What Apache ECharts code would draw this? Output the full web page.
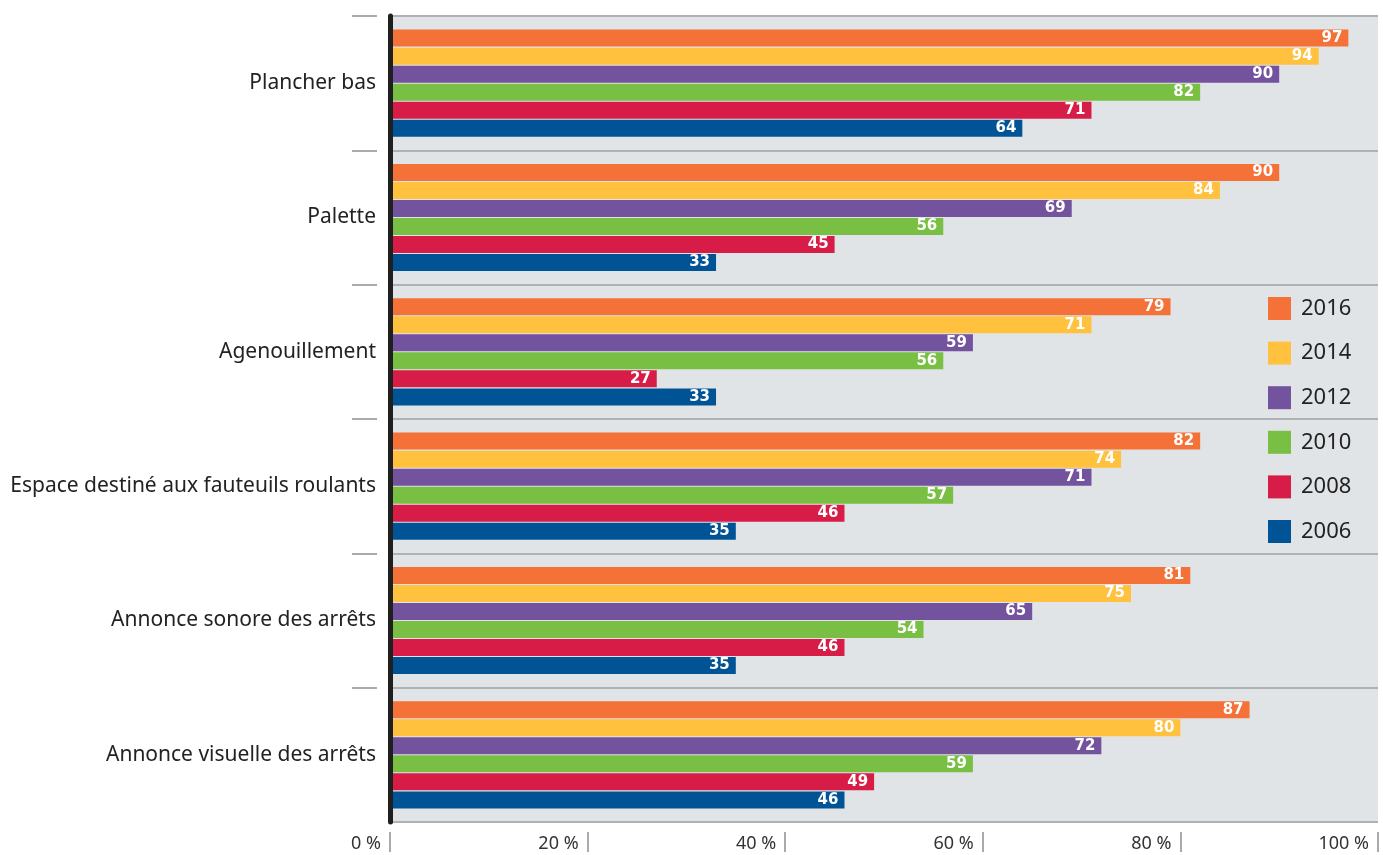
<!DOCTYPE html>
<html>
<head>
<meta charset="utf-8">
<script src="https://cdn.jsdelivr.net/npm/echarts@6/dist/echarts.min.js"></script>
<style>html,body{margin:0;padding:0;background:#fff;}#c{width:1383px;height:855px;}</style>
</head>
<body>
<div id="c"></div>
<script>
const categories = ["Plancher bas", "Palette", "Agenouillement", "Espace destiné aux fauteuils roulants", "Annonce sonore des arrêts", "Annonce visuelle des arrêts"];
const years = ["2016", "2014", "2012", "2010", "2008", "2006"];
const v2016 = [97, 90, 79, 82, 81, 87];
const v2014 = [94, 84, 71, 74, 75, 80];
const v2012 = [90, 69, 59, 71, 65, 72];
const v2010 = [82, 56, 56, 57, 54, 59];
const v2008 = [71, 45, 27, 46, 46, 49];
const v2006 = [64, 33, 33, 35, 35, 46];
const xTicks = [0, 20, 40, 60, 80, 100];

const values = [v2016, v2014, v2012, v2010, v2008, v2006];
const colors = ["#F47137", "#FFC13E", "#73529E", "#78BF43", "#D71D47", "#005496"];

const chart = echarts.init(document.getElementById('c'));
const series = years.map((y, i) => ({
  name: y,
  type: 'bar',
  data: values[i],
  barWidth: 17,
  barGap: '6%',
  itemStyle: { color: colors[i] },
  label: {
    show: true,
    position: 'insideRight',
    distance: 6,
    color: '#fff',
    fontFamily: 'DejaVu Sans',
    fontWeight: 'bold',
    fontSize: 15
  }
}));

chart.setOption({
  animation: false,
  backgroundColor: '#fff',
  grid: {
    left: 390, right: 5, top: 16, bottom: 33,
    show: true, backgroundColor: '#E1E4E7', borderWidth: 0
  },
  legend: {
    data: years,
    orient: 'vertical',
    left: 1268, top: 297,
    padding: 0,
    itemWidth: 23, itemHeight: 23, itemGap: 21.6,
    icon: 'rect',
    textStyle: { fontFamily: 'Noto Sans', fontSize: 22, color: '#222', padding: [0, 0, 0, 5] }
  },
  xAxis: {
    type: 'value',
    min: xTicks[0], max: xTicks[xTicks.length - 1], interval: 20,
    position: 'bottom',
    offset: 10,
    axisLine: { show: false, onZero: false },
    splitLine: { show: false },
    axisTick: { show: true, length: 20, lineStyle: { color: '#aaaaaa', width: 2 } },
    axisLabel: {
      formatter: '{value} %',
      align: 'right', verticalAlign: 'middle', margin: 12,
      padding: [0, 9, 0, 0],
      fontFamily: 'Noto Sans', fontSize: 18, color: '#333'
    }
  },
  yAxis: [{
    type: 'category',
    data: categories,
    inverse: true,
    z: 5,
    axisLine: { show: true, onZero: false, lineStyle: { color: '#1f1f1f', width: 5 } },
    axisTick: { show: false },
    splitLine: { show: true, lineStyle: { color: '#AEB2B6', width: 2 } },
    axisLabel: { margin: 14, fontFamily: 'Noto Sans', fontSize: 21, color: '#222' }
  }, {
    type: 'value',
    min: 0, max: categories.length, interval: 1,
    inverse: true,
    position: 'left',
    offset: 13,
    axisLine: { show: false, onZero: false },
    splitLine: { show: false },
    axisLabel: { show: false },
    axisTick: { show: true, length: 25, customValues: [0, 1, 2, 3, 4, 5], lineStyle: { color: '#aaaaaa', width: 2 } }
  }],
  series: series
});
</script>
</body>
</html>
